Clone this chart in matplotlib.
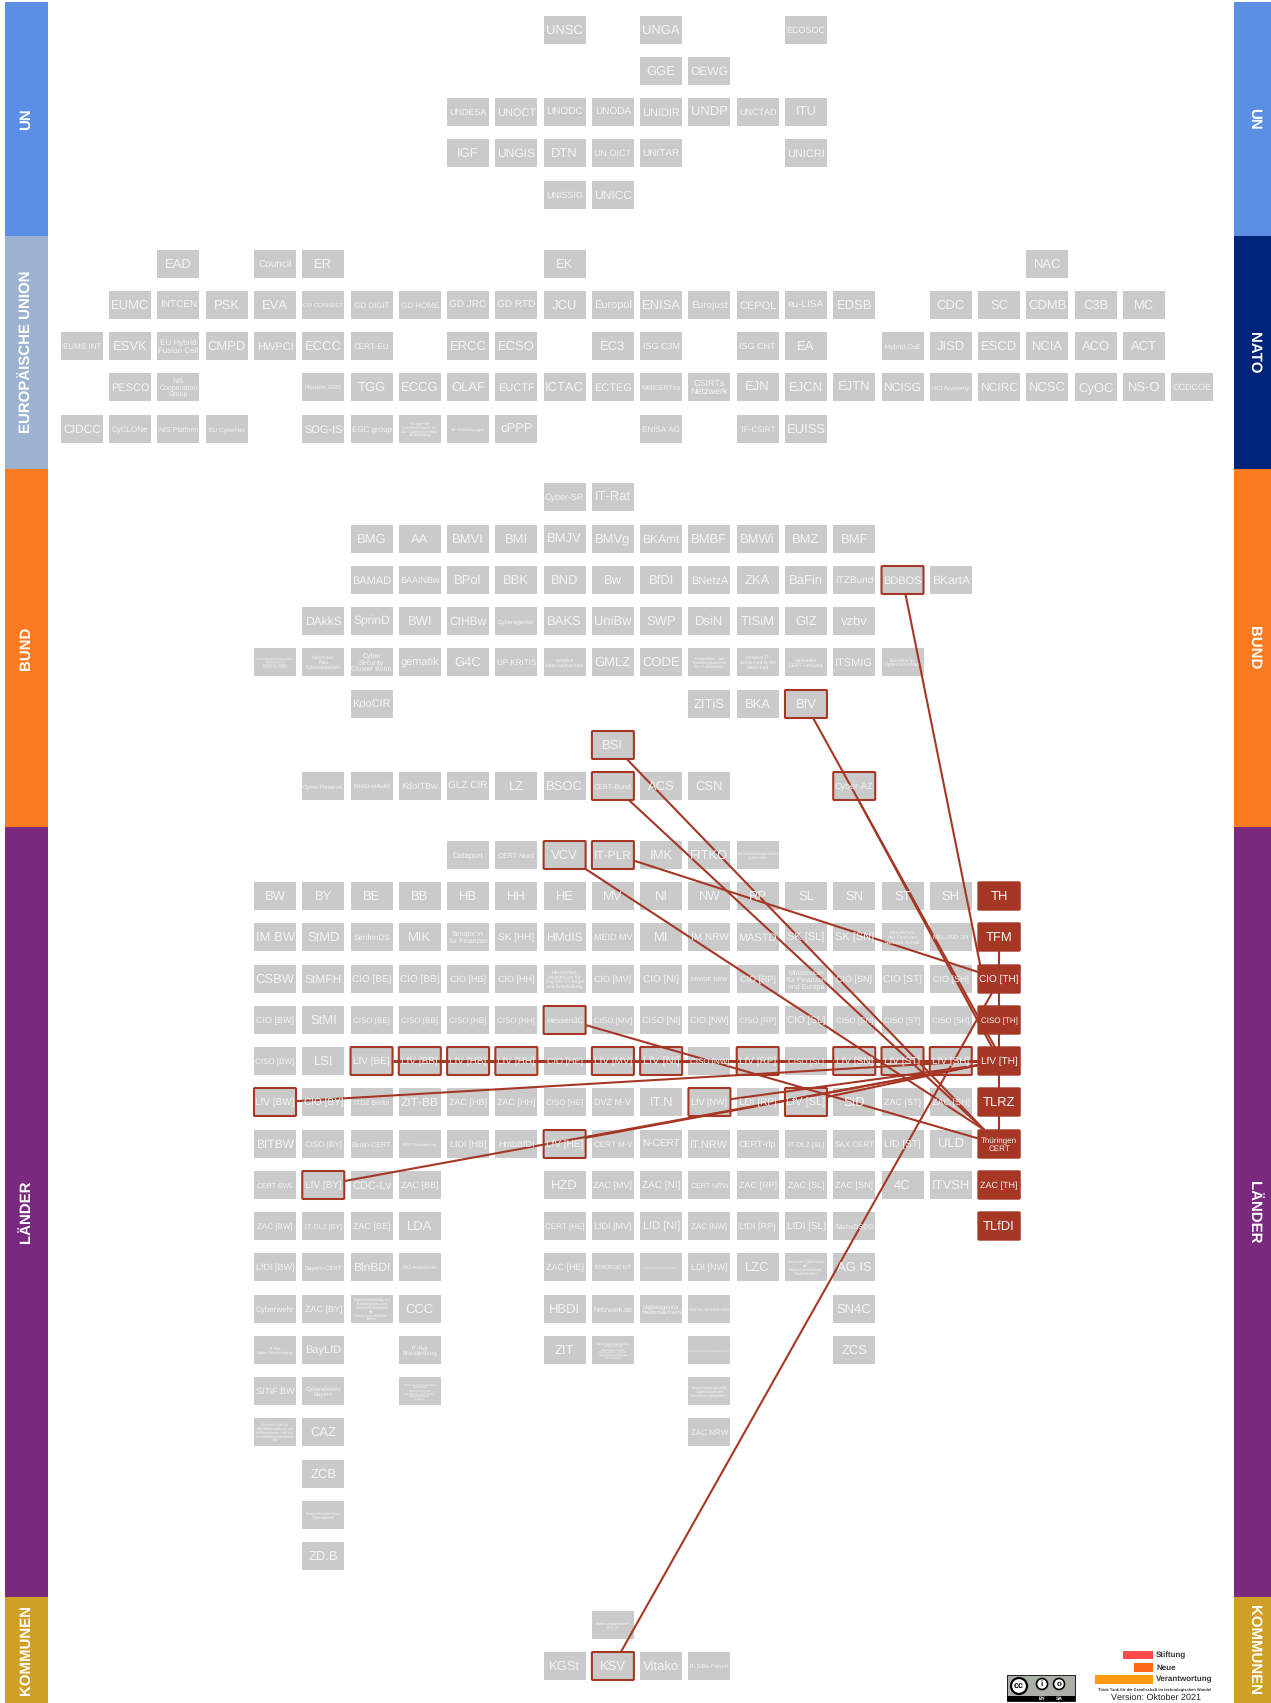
import matplotlib
matplotlib.use('Agg')
import matplotlib.pyplot as plt
from matplotlib.patches import Rectangle, FancyBboxPatch, Circle

plt.rcParams['font.family'] = ['Liberation Sans', 'DejaVu Sans']
plt.rcParams['text.hinting'] = 'no_hinting'
plt.rcParams['text.hinting_factor'] = 1

W, H = 1271, 1703
# ---------- data: the bars ----------
LEFT_BANDS = ['UN', 'EUROPÄISCHE UNION', 'BUND', 'LÄNDER', 'KOMMUNEN']
RIGHT_BANDS = ['UN', 'NATO', 'BUND', 'LÄNDER', 'KOMMUNEN']

# ---------- data: rows of actors (None = empty cell) ----------
UN_1 = ['UNSC', None, 'UNGA', None, None, 'ECOSOC']
UN_2 = ['GGE', 'OEWG']
UN_3 = ['UNDESA', 'UNOCT', 'UNODC', 'UNODA', 'UNIDIR', 'UNDP', 'UNCTAD', 'ITU']
UN_4 = ['IGF', 'UNGIS', 'DTN', 'UN OICT', 'UNITAR', None, None, 'UNICRI']
UN_5 = ['UNISSIG', 'UNICC']
EU_1 = ['EAD', None, 'Council', 'ER', None, None, None, None, 'EK', None, None, None, None, None, None, None, None, None, 'NAC']
EU_2 = ['EUMC', 'INTCEN', 'PSK', 'EVA', 'GD CONNECT', 'GD DIGIT', 'GD HOME', 'GD JRC', 'GD RTD', 'JCU', 'Europol', 'ENISA',
        'Eurojust', 'CEPOL', 'eu-LISA', 'EDSB', None, 'CDC', 'SC', 'CDMB', 'C3B', 'MC']
EU_3 = ['EUMS INT', 'ESVK', 'EU Hybrid\nFusion Cell', 'CMPD', 'HWPCI', 'ECCC', 'CERT-EU', None, 'ERCC', 'ECSO', None, 'EC3',
        'ISG C3M', None, 'ISG CHT', 'EA', None, 'Hybrid CoE', 'JISD', 'ESCD', 'NCIA', 'ACO', 'ACT']
EU_4 = ['PESCO', 'NIS\nCooperation\nGroup', None, None, 'Horizon 2020', 'TGG', 'ECCG', 'OLAF', 'EUCTF', 'ICTAC', 'ECTEG',
        'MeliCERTes', 'CSIRTs\nNetzwerk', 'EJN', 'EJCN', 'EJTN', 'NCISG', 'NCI Academy', 'NCIRC', 'NCSC', 'CyOC', 'NS-O', 'CCDCOE']
EU_5 = ['CIDCC', 'CyCLONe', 'NIS Platform', 'EU CyberNet', None, 'SOG-IS', 'EGC group',
        'Gruppe der\nInteressenträger für\ndie Cybersicherheits-\nzertifizierung', 'SKI-Kontaktgruppe', 'cPPP',
        None, None, 'ENISA AG', None, 'TF-CSIRT', 'EUISS']
BU_1 = ['Cyber-SR', 'IT-Rat']
BU_2 = ['BMG', 'AA', 'BMVI', 'BMI', 'BMJV', 'BMVg', 'BKAmt', 'BMBF', 'BMWi', 'BMZ', 'BMF']
BU_3 = ['BAMAD', 'BAAINBw', 'BPol', 'BBK', 'BND', 'Bw', 'BfDI', 'BNetzA', 'ZKA', 'BaFin', 'ITZBund', 'BDBOS', 'BKartA']
BU_4 = ['DAkkS', 'SprinD', 'BWI', 'CIHBw', 'Cyberagentur', 'BAKS', 'UniBw', 'SWP', 'DsiN', 'TISiM', 'GIZ', 'vzbv']
BU_5 = ['Forschungsrahmenprogramm\nsystem zur IT-\nSicherheit „Digital.\nSicher. Souverän.“', 'Nationaler\nPakt\nCybersicherheit',
        'Cyber\nSecurity\nCluster Bonn', 'gematik', 'G4C', 'UP KRITIS', 'Initiative\nWirtschaftsschutz', 'GMLZ', 'CODE',
        'Kompetenz- und\nForschungszentren\nfür IT-Sicherheit', 'Initiative IT-\nSicherheit in der\nWirtschaft',
        'Nationaler\nCERT-Verbund', 'ITSMIG', 'Bündnis für\nCybersicherheit']
BU_6 = ['KdoCIR', None, None, None, None, None, None, 'ZITiS', 'BKA', 'BfV']
BU_7 = ['BSI']
BU_8 = ['Cyber-Reserve', 'KdoStratAufkl', 'KdoITBw', 'GLZ CIR', 'LZ', 'BSOC', 'CERT-Bund', 'ACS', 'CSN', None, None, 'Cyber-AZ']
BU_9 = ['Dataport', 'CERT Nord', 'VCV', 'IT-PLR', 'IMK', 'FITKO', 'Sicherheitskooperation\nCybercrime']
LA_1 = ['BW', 'BY', 'BE', 'BB', 'HB', 'HH', 'HE', 'MV', 'NI', 'NW', 'RP', 'SL', 'SN', 'ST', 'SH', 'TH']
LA_2 = ['IM BW', 'StMD', 'SenInnDS', 'MIK', 'Senator:in\nfür Finanzen', 'SK [HH]', 'HMdIS', 'MEID MV', 'MI', 'IM NRW', 'MASTD',
        'SK [SL]', 'SK [SN]', 'Ministerium\nder Finanzen\nSachsen-Anhalt', 'MELUND SH', 'TFM']
LA_3 = ['CSBW', 'StMFH', 'CIO [BE]', 'CIO [BB]', 'CIO [HB]', 'CIO [HH]', 'Hessisches\nMinisterium für\nDigitale Strategie\nund Entwicklung',
        'CIO [MV]', 'CIO [NI]', 'MWIDE NRW', 'CIO [RP]', 'Ministerium\nfür Finanzen\nund Europa', 'CIO [SN]', 'CIO [ST]', 'CIO [SH]', 'CIO [TH]']
LA_4 = ['CIO [BW]', 'StMI', 'CISO [BE]', 'CISO [BB]', 'CISO [HB]', 'CISO [HH]', 'Hessen3C', 'CISO [MV]', 'CISO [NI]', 'CIO [NW]',
        'CISO [RP]', 'CIO [SL]', 'CISO [SN]', 'CISO [ST]', 'CISO [SH]', 'CISO [TH]']
LA_5 = ['CISO [BW]', 'LSI', 'LfV [BE]', 'LfV [BB]', 'LfV [HB]', 'LfV [HH]', 'CIO [HE]', 'LfV [MV]', 'LfV [NI]', 'CISO [NW]', 'LfV [RP]',
        'CISO [SL]', 'LfV [SN]', 'LfV [ST]', 'LfV [SH]', 'LfV [TH]']
LA_6 = ['LfV [BW]', 'CIO [BY]', 'ITDZ Berlin', 'ZIT-BB', 'ZAC [HB]', 'ZAC [HH]', 'CISO [HE]', 'DVZ M-V', 'IT.N', 'LfV [NW]', 'LDI [RP]',
        'LfV [SL]', 'SID', 'ZAC [ST]', 'ZAC [SH]', 'TLRZ']
LA_7 = ['BITBW', 'CISO [BY]', 'Berlin-CERT', 'CERT-Brandenburg', 'LfDI [HB]', 'HmbBfDI', 'LfV [HE]', 'CERT M-V', 'N-CERT', 'IT.NRW',
        'CERT-rlp', 'IT-DLZ [SL]', 'SAX.CERT', 'LfD [ST]', 'ULD', 'Thüringen\nCERT']
LA_8 = ['CERT BWL', 'LfV [BY]', 'CDC-Lv', 'ZAC [BB]', None, None, 'HZD', 'ZAC [MV]', 'ZAC [NI]', 'CERT NRW', 'ZAC [RP]', 'ZAC [SL]',
        'ZAC [SN]', '4C', 'ITVSH', 'ZAC [TH]']
LA_9 = ['ZAC [BW]', 'IT-DLZ [BY]', 'ZAC [BE]', 'LDA', None, None, 'CERT [HE]', 'LfDI [MV]', 'LfD [NI]', 'ZAC [NW]', 'LfDI [RP]',
        'LfDI [SL]', 'SächsDSDG', None, None, 'TLfDI']
LA_10 = ['LfDI [BW]', 'Bayern-CERT', 'BlnBDI', 'RIO-Ausschuss', None, None, 'ZAC [HE]', 'EMERGE IoT', 'Cybersicherheitsbündnis',
         'LDI [NW]', 'LZC', 'Dezernat Cybercrime\nder\nStaatsanwaltschaft\nSaarbrücken', 'AG IS']
LA_11 = ['Cyberwehr', 'ZAC [BY]', 'Spezialabteilung zur\nBekämpfung von\nInternetkriminalität\nder\nStaatsanwaltschaft\nBerlin', 'CCC',
         None, None, 'HBDI', 'Netzwerk.de', 'Digitalagentur\nNiedersachsen', 'DIGITAL.SICHER.NRW', None, None, 'SN4C']
LA_12 = ['IT-Rat\nBaden-Württemberg', 'BayLfD', None, 'IT-Rat\nBrandenburg', None, None, 'ZIT',
         'Schwerpunktstaatsanwa\nltschaft für die\nBekämpfung der\nInformations- und Ko\nmmunikationskriminal\nität Rostock', None,
         'Cybercrime-Kompetenzzentrum', None, None, 'ZCS']
LA_13 = ['SITiF BW', 'Cyberabwehr\nBayern', None,
         'Schwerpunktstaatsanwa\nltschaft zur\nBekämpfung der\nComputer- und Daten\nnetzkriminalität\nCottbus',
         None, None, None, None, None, 'Koordinierungsstelle\nCybersicherheit\nNordrhein-Westfalen']
LA_14 = ['Zentralstelle für\ndie Bekämpfung von\nInformations- und Ko\nmmunikationskriminal\nität', 'CAZ', None, None, None, None, None, None, None, 'ZAC NRW']
LA_15 = ['ZCB']
LA_16 = ['Kompetenzzentrum\nCyberabwehr']
LA_17 = ['ZD.B']
KO_1 = ['Kommunalgremium\nIT-PLR']
KO_2 = ['KGSt', 'KSV', 'Vitako', 'IT-SiBe-Forum']

# actors holding the Thuringian view
STATE_ACTORS = ['TH', 'TFM', 'CIO [TH]', 'CISO [TH]', 'LfV [TH]', 'TLRZ', 'Thüringen\nCERT', 'ZAC [TH]', 'TLfDI']
LINKED_ACTORS = ['BDBOS', 'BfV', 'BSI', 'CERT-Bund', 'Cyber-AZ', 'VCV', 'IT-PLR', 'Hessen3C', 'LfV [BE]', 'LfV [BB]', 'LfV [HB]',
                 'LfV [HH]', 'LfV [MV]', 'LfV [NI]', 'LfV [RP]', 'LfV [SN]', 'LfV [ST]', 'LfV [SH]', 'LfV [BW]', 'LfV [NW]',
                 'LfV [SL]', 'LfV [HE]', 'LfV [BY]', 'KSV']

# links between actors: source, target
LINK_SOURCE = ['TFM', 'CIO [TH]', 'CISO [TH]', 'LfV [TH]', 'TLRZ',
               'BDBOS', 'BfV', 'Cyber-AZ', 'KSV', 'BSI', 'CERT-Bund', 'VCV', 'IT-PLR', 'Hessen3C',
               'LfV [BE]', 'LfV [BB]', 'LfV [HB]', 'LfV [HH]', 'LfV [MV]', 'LfV [NI]', 'LfV [RP]', 'LfV [SN]', 'LfV [ST]', 'LfV [SH]',
               'LfV [BW]', 'LfV [NW]', 'LfV [SL]', 'LfV [HE]', 'LfV [BY]']
LINK_TARGET = ['CIO [TH]', 'CISO [TH]', 'LfV [TH]', 'TLRZ', 'Thüringen\nCERT',
               'CIO [TH]', 'LfV [TH]', 'LfV [TH]', 'CIO [TH]', 'Thüringen\nCERT', 'Thüringen\nCERT', 'Thüringen\nCERT', 'CIO [TH]', 'Thüringen\nCERT',
               'LfV [TH]', 'LfV [TH]', 'LfV [TH]', 'LfV [TH]', 'LfV [TH]', 'LfV [TH]', 'LfV [TH]', 'LfV [TH]', 'LfV [TH]', 'LfV [TH]',
               'LfV [TH]', 'LfV [TH]', 'LfV [TH]', 'LfV [TH]', 'LfV [TH]']

# ---------- layout ----------
COL0, COL_STEP = 275.0, 48.27
BOX_W, BOX_H = 42, 28
LAYOUT = [(30, 6, UN_1), (71, 8, UN_2), (112, 4, UN_3), (153, 4, UN_4), (195, 6, UN_5),
          (264, -2, EU_1), (305, -3, EU_2), (346, -4, EU_3), (387, -3, EU_4), (429, -4, EU_5),
          (497, 6, BU_1), (539, 2, BU_2), (580, 2, BU_3), (621, 1, BU_4), (662, 0, BU_5), (704, 2, BU_6),
          (745, 7, BU_7), (786, 1, BU_8), (855, 4, BU_9),
          (896, 0, LA_1), (937, 0, LA_2), (979, 0, LA_3), (1020, 0, LA_4), (1061, 0, LA_5), (1102, 0, LA_6),
          (1144, 0, LA_7), (1185, 0, LA_8), (1226, 0, LA_9), (1267, 0, LA_10), (1309, 0, LA_11), (1350, 0, LA_12),
          (1391, 0, LA_13), (1432, 0, LA_14), (1474, 1, LA_15), (1515, 1, LA_16), (1556, 1, LA_17),
          (1625, 7, KO_1), (1666, 6, KO_2)]
BAND_Y = [2, 235.5, 469, 827, 1597, 1703]
LEFT_COLORS = ['#5B8FE6', '#9DB2D0', '#FC7A20', '#7A2A7E', '#CFA025']
RIGHT_COLORS = ['#5B8FE6', '#00237B', '#FC7A20', '#7A2A7E', '#CFA025']
GREY = '#CACACA'
RED = '#A63725'
WIDTH_LIMIT = {'Dataport': 31, 'Council': 34}
# where a link leaves (side, fraction along side) when it is not the default
ANCHOR_OUT = {'BDBOS': ('b', .57), 'BfV': ('b', .67), 'Cyber-AZ': ('b', .6), 'KSV': ('t', .69), 'BSI': ('b', .83), 'CERT-Bund': ('b', .88),
              'VCV': ('b', 1.0), 'IT-PLR': ('r', .7), 'Hessen3C': ('r', .68), 'TFM': ('b', .5), 'CIO [TH]': ('b', .5),
              'CISO [TH]': ('b', .5), 'LfV [TH]': ('b', .5), 'TLRZ': ('b', .5), 'LfV [BW]': ('r', .47), 'LfV [NW]': ('r', .4),
              'LfV [SL]': ('r', .32), 'LfV [HE]': ('r', .28), 'LfV [BY]': ('r', .36)}
ANCHOR_IN = {('BDBOS', 'CIO [TH]'): ('t', .05), ('BfV', 'LfV [TH]'): ('t', .4), ('Cyber-AZ', 'LfV [TH]'): ('t', .33),
             ('KSV', 'CIO [TH]'): ('b', .33), ('BSI', 'Thüringen\nCERT'): ('t', .15), ('CERT-Bund', 'Thüringen\nCERT'): ('t', .15),
             ('VCV', 'Thüringen\nCERT'): ('t', .15), ('IT-PLR', 'CIO [TH]'): ('l', .25), ('Hessen3C', 'Thüringen\nCERT'): ('l', .3),
             ('LfV [BW]', 'LfV [TH]'): ('l', .5), ('LfV [NW]', 'LfV [TH]'): ('l', .65), ('LfV [SL]', 'LfV [TH]'): ('l', .65),
             ('LfV [HE]', 'LfV [TH]'): ('l', .65), ('LfV [BY]', 'LfV [TH]'): ('l', .65)}

fig = plt.figure(figsize=(W / 100, H / 100), dpi=100)
ax = fig.add_axes([0, 0, 1, 1])
ax.set_xlim(0, W)
ax.set_ylim(H, 0)
ax.axis('off')
renderer = fig.canvas.get_renderer()

# side bars
def band_labels(x0, x1, names, colors, rot, tx):
    for i, (n, c) in enumerate(zip(names, colors)):
        ax.add_patch(Rectangle((x0, BAND_Y[i]), x1 - x0, BAND_Y[i + 1] - BAND_Y[i], fc=c, ec='none', zorder=1))
        ax.text(tx, (BAND_Y[i] + BAND_Y[i + 1]) / 2, n, rotation=rot, color='white', fontweight='bold',
                fontsize=10.8, ha='center', va='center', zorder=2)

band_labels(5, 48, LEFT_BANDS, LEFT_COLORS, 90, 26)
band_labels(1234, 1271, RIGHT_BANDS, RIGHT_COLORS, 270, 1254)

# place actors
pos = {}
for y, start, row in LAYOUT:
    for k, lab in enumerate(row):
        if lab is not None:
            pos[lab] = (COL0 + COL_STEP * (start + k), y)

def fit_text(x, y, s, color):
    t = ax.text(x, y + 0.8, s, ha='center', va='center', color=color, fontsize=9.4, linespacing=1.02, zorder=6)
    bb = t.get_window_extent(renderer)
    scale = min(1.0, WIDTH_LIMIT.get(s, 37.5) / bb.width, 25.0 / bb.height)
    t.set_fontsize(9.4 * scale)
    return t

for lab, (x, y) in pos.items():
    if lab in STATE_ACTORS:
        ax.add_patch(FancyBboxPatch((x - BOX_W / 2, y - BOX_H / 2), BOX_W, BOX_H, boxstyle='round,pad=0,rounding_size=1',
                                    fc=RED, ec=RED, lw=1.0, zorder=3))
    else:
        ax.add_patch(Rectangle((x - BOX_W / 2, y - BOX_H / 2), BOX_W, BOX_H, fc=GREY, ec='none', zorder=3))
        if lab in LINKED_ACTORS:
            ax.add_patch(FancyBboxPatch((x - BOX_W / 2, y - BOX_H / 2), BOX_W, BOX_H, boxstyle='round,pad=0,rounding_size=1',
                                        fc='none', ec=RED, lw=1.5, zorder=5))
    fit_text(x, y, lab, '#F4F4F4')

def anchor(name, side, frac):
    x, y = pos[name]
    if side == 'b':
        return x - BOX_W / 2 + frac * BOX_W, y + BOX_H / 2
    if side == 't':
        return x - BOX_W / 2 + frac * BOX_W, y - BOX_H / 2
    if side == 'l':
        return x - BOX_W / 2, y - BOX_H / 2 + frac * BOX_H
    return x + BOX_W / 2, y - BOX_H / 2 + frac * BOX_H

for s, t in zip(LINK_SOURCE, LINK_TARGET):
    so = ANCHOR_OUT.get(s, ('r', .5))
    ti = ANCHOR_IN.get((s, t), ('t', .5) if so[0] == 'b' else ('l', .5))
    x0, y0 = anchor(s, *so)
    x1, y1 = anchor(t, *ti)
    same_row = abs(y0 - y1) < 0.5
    ax.plot([x0, x1], [y0, y1], color=RED, lw=2.1 if same_row else 1.5, solid_capstyle='butt', zorder=4.5)

# footer: licence badge
ax.add_patch(Rectangle((1007, 1675), 68, 26, fc='#AAB0A8', ec='black', lw=0.6, zorder=3))
ax.add_patch(Rectangle((1007, 1696), 68, 5, fc='black', ec='none', zorder=3))
ax.add_patch(Circle((1019, 1686), 8, fc='white', ec='black', lw=1.6, zorder=4))
ax.text(1019, 1686, 'cc', fontsize=6.5, fontweight='bold', ha='center', va='center', zorder=5)
for cx, s in [(1042, 'i'), (1059, 'o')]:
    ax.add_patch(Circle((cx, 1684), 5.5, fc='white', ec='black', lw=1.2, zorder=4))
    ax.text(cx, 1684, s, fontsize=6, fontweight='bold', ha='center', va='center', zorder=5)
ax.text(1042, 1698.5, 'BY', color='white', fontsize=3.6, fontweight='bold', ha='center', va='center', zorder=5)
ax.text(1059, 1698.5, 'SA', color='white', fontsize=3.6, fontweight='bold', ha='center', va='center', zorder=5)

# footer: foundation mark
LOGO_WORDS = ['Stiftung', 'Neue', 'Verantwortung']
for x0, y0, h, c, w in [(1123, 1651, 8, '#FF4B4B', LOGO_WORDS[0]), (1134, 1663, 9, '#FF6A1A', LOGO_WORDS[1]), (1095, 1675, 9, '#FF9A10', LOGO_WORDS[2])]:
    ax.add_patch(Rectangle((x0, y0), 1153 - x0, h, fc=c, ec='none', zorder=3))
    ax.text(1156, y0 + h / 2, w, fontsize=6.0, fontweight='bold', color='#333333', ha='left', va='center', zorder=3)
ax.text(1155, 1690, 'Think Tank für die Gesellschaft im technologischen Wandel', fontsize=3.0, fontweight='bold', color='#333333',
        ha='center', va='center', zorder=3)
ax.text(1156, 1697.5, 'Version: Oktober 2021', fontsize=6.3, color='#222222', ha='center', va='center', zorder=3)

fig.savefig('out.png', dpi=100)
